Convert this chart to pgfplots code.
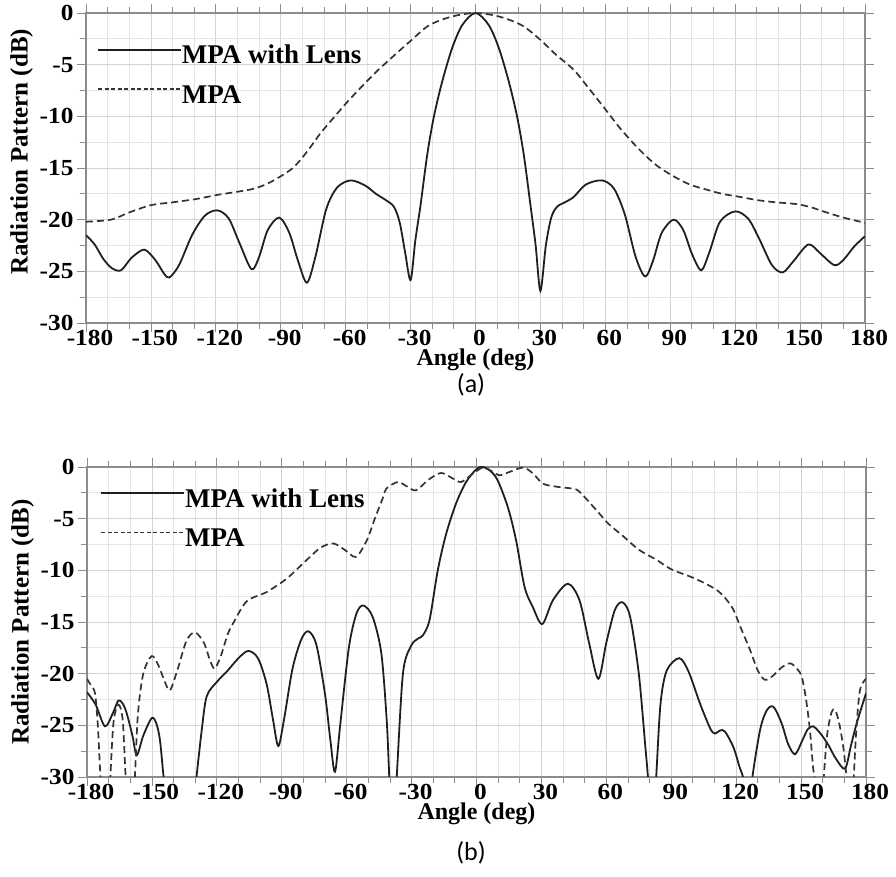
\documentclass[border=0pt]{standalone}
\usepackage{pgfplots}
\pgfplotsset{compat=1.18}
\usepackage{fontspec}
\setmainfont{Liberation Serif}
\newfontfamily\tickfont{Liberation Serif}[FakeStretch=1.1]
\newfontfamily\capfont{Carlito}

\pgfplotsset{
  myaxis/.style={
    scale only axis, width=779pt, height=310pt,
    anchor=south west,
    xmin=-180, xmax=180, ymin=-30, ymax=0,
    xtick={-180,-150,...,180}, ytick={-30,-25,...,0},
    minor x tick num=2, minor y tick num=1,
    grid=both,
    major grid style={color=black!17, line width=0.8pt},
    minor grid style={color=black!10, line width=0.8pt},
    axis line style={color=black!45, line width=1.2pt},
    tick align=outside,
    major tick length=9pt, minor tick length=6pt,
    tick style={color=black!45, line width=0.8pt},
    /pgf/number format/assume math mode=true,
    ticklabel style={font=\tickfont\fontsize{23}{23}\selectfont\bfseries},
    xticklabel style={inner sep=0pt, xshift=4pt, yshift=2pt},
    xlabel={Angle (deg)}, ylabel={Radiation Pattern (dB)},
    xlabel style={font=\fontsize{24}{24}\selectfont\bfseries, inner sep=0pt, yshift=-2.5pt},
    ylabel style={font=\fontsize{25}{25}\selectfont\bfseries},
    legend image code/.code={\draw[##1] (0pt,14pt) -- (83pt,14pt);},
    legend style={draw=none, fill=none, inner sep=0pt, anchor=north west,
      font=\fontsize{27}{27}\selectfont\bfseries,
      cells={anchor=base west},
      nodes={inner sep=0pt}},
  },
  solidline/.style={line width=1.8pt, black!88, smooth},
  dashline/.style={line width=1.7pt, black!80, dash pattern=on 7pt off 4pt, smooth},
}

\begin{document}
\begin{tikzpicture}
\useasboundingbox (0,0) rectangle (896pt,877pt);

% ---------------- (a) ----------------
\begin{axis}[myaxis, at={(86pt,554pt)},
  ylabel style={at={(ticklabel cs:0.552)}},
  legend style={at={(axis description cs:0.014,0.897)}, row sep=20pt}]
\addlegendimage{line width=1.8pt, black!88}
\addlegendentry{MPA with Lens}
\addlegendimage{line width=1.6pt, black!80, dash pattern=on 4pt off 2.5pt}
\addlegendentry{MPA}
\addplot[solidline, forget plot] coordinates {
(-180,-21.5) (-176,-22.4) (-172,-23.8) (-168,-24.7) (-163.8,-24.9) (-159,-23.7)
(-153.1,-22.9) (-148,-23.9) (-144,-25.2) (-141.5,-25.6) (-137,-24.4) (-131,-21.5)
(-125,-19.6) (-119.2,-19.1) (-114,-19.9) (-109,-22.3) (-103.5,-24.8) (-100,-23.6)
(-96,-21.0) (-90.7,-19.8) (-86,-21.3) (-82,-24.0) (-77.9,-26.1) (-74,-23.6)
(-69,-19.0) (-64,-16.9) (-57.7,-16.2) (-51,-16.7) (-46,-17.5) (-41.5,-18.1)
(-37.7,-18.75) (-35,-20.3) (-32.5,-23.2) (-30,-25.85) (-27.8,-22.0) (-25.4,-18.6)
(-22.3,-13.7) (-19.2,-10.0) (-15.4,-6.65) (-10.8,-3.4) (-6.1,-1.16) (0,0)
(6.1,-1.16) (10.8,-3.4) (15.4,-6.65) (19.2,-10.0) (22.3,-13.7) (25.4,-18.6)
(27.8,-22.5) (30,-26.9) (32.5,-22.5) (35,-19.8) (37.7,-18.75) (41.5,-18.3)
(45.4,-17.8) (51,-16.6) (58.5,-16.2) (64,-17.0) (69,-19.5) (74,-23.6)
(78.4,-25.5) (82,-24.0) (86,-21.3) (91.5,-20.0) (96,-21.0) (100,-23.3)
(104.3,-24.9) (108,-23.2) (113,-20.2) (120,-19.2) (126,-19.9) (131,-21.8)
(137,-24.4) (142,-25.1) (147,-24.0) (153.8,-22.4) (159,-23.2) (165.8,-24.4)
(170,-23.9) (175,-22.6) (180,-21.6)
};
\addplot[dashline, forget plot] coordinates {
(-180,-20.2) (-168.4,-20.0) (-160,-19.3) (-150,-18.6) (-139.2,-18.3)
(-129,-18.0) (-119.2,-17.6) (-110,-17.3) (-102.3,-17.0) (-96,-16.5)
(-90,-15.8) (-85,-15.1) (-80.8,-14.2) (-76,-12.9) (-71.5,-11.6) (-65,-10.0)
(-59.2,-8.6) (-52,-7.0) (-45.4,-5.6) (-37,-4.0) (-30,-2.7) (-21.5,-1.2)
(-11,-0.35) (0,0) (11,-0.35) (21.5,-1.2) (30,-2.6) (37,-4.0) (45.4,-5.5)
(52,-7.2) (59.2,-9.1) (67,-11.2) (76.1,-13.3) (84,-14.8) (91.5,-15.8)
(99,-16.6) (106.9,-17.1) (114,-17.5) (122.3,-17.8) (130,-18.1) (137.7,-18.3)
(148.5,-18.5) (155,-18.8) (160.7,-19.2) (170,-19.8) (180,-20.3)
};
\end{axis}

% ---------------- (b) ----------------
\begin{axis}[myaxis, at={(87pt,100pt)},
  legend style={at={(axis description cs:0.017,0.932)}, row sep=20pt}]
\addlegendimage{line width=1.8pt, black!88}
\addlegendentry{MPA with Lens}
\addlegendimage{line width=1.6pt, black!80, dash pattern=on 4pt off 2.5pt}
\addlegendentry{MPA}
\addplot[solidline, forget plot] coordinates {
(-180,-21.8) (-176,-23.0) (-171.7,-25.1) (-168,-23.8) (-165.5,-22.6) (-163.5,-22.9)
(-161.7,-23.8) (-159,-26.0) (-157,-27.9) (-154,-26.0) (-150.1,-24.3) (-148,-24.8)
(-146.3,-26.4) (-144.7,-29.8) (-143,-33) (-137,-42) (-131,-33) (-129.3,-29.8)
(-127,-25.5) (-124.7,-22.2) (-120,-20.8) (-115.4,-19.8) (-110,-18.5) (-105.5,-17.8)
(-101,-18.5) (-97,-21.0) (-94,-24.5) (-91.6,-27.0) (-89,-24.5) (-85,-19.5)
(-81,-16.7) (-77.7,-15.9) (-74,-17.2) (-70,-22.0) (-67.5,-26.5) (-65.4,-29.5)
(-63,-25.0) (-59,-17.5) (-55.5,-14.2) (-52.3,-13.4) (-48,-14.5) (-44,-18.0)
(-41.5,-24.5) (-40.2,-30.5) (-38.7,-36) (-37,-30.5) (-34,-20.0) (-30.2,-17.3)
(-27,-16.6) (-24.8,-16.3) (-21.7,-14.8) (-17.9,-10.0) (-14,-6.45) (-9.4,-3.5)
(-4.8,-1.45) (0,-0.2) (2.9,0) (6.5,-0.4) (9.8,-1.3) (14.5,-3.9) (18.3,-7.1)
(22.2,-11.6) (26,-13.55) (30.4,-15.2) (35.3,-12.9) (42.2,-11.3) (47.6,-12.9)
(52,-17.0) (56.3,-20.5) (60,-17.0) (64,-13.8) (67.5,-13.1) (71,-14.5)
(75,-20.0) (78,-27.0) (79.4,-30.5) (81,-36) (82.9,-30.5) (85,-23.0)
(87.9,-19.7) (93.7,-18.5) (98,-19.8) (103.3,-22.9) (108,-25.3) (110.2,-25.8)
(112.5,-25.5) (114.8,-25.6) (118.7,-27.1) (121.5,-29.0) (123.6,-30.5) (125.5,-35)
(127.2,-30.5) (131,-25.5) (134,-23.6) (137.2,-23.2) (141,-24.8) (144,-26.8)
(147.2,-27.8) (150.5,-26.5) (153,-25.4) (155.6,-25.1) (159,-25.8) (162.6,-26.9)
(166,-28.2) (170.3,-29.2) (173,-27.0) (175.7,-24.8) (180,-21.9)
};
\addplot[dashline, forget plot] coordinates {
(-180,-20.5) (-178,-21.2) (-176.3,-21.9) (-175,-25.0) (-173.5,-31) (-171.5,-36)
(-169.5,-31) (-167.8,-24.8) (-165.5,-23.0) (-163.5,-24.5) (-162,-30.5) (-160,-36)
(-158,-30.5) (-156.5,-24.0) (-154,-20.0) (-150.1,-18.3) (-147,-19.2) (-144,-20.8)
(-141.6,-21.6) (-138,-19.5) (-134,-16.8) (-130.1,-16.0) (-126,-17.0) (-123,-18.8)
(-120.9,-19.5) (-118,-18.2) (-115,-16.2) (-112.4,-15.1) (-106.2,-13.0) (-97,-12.1)
(-87.7,-10.8) (-78.5,-9.0) (-72,-7.8) (-66.2,-7.4) (-61,-8.0) (-55.7,-8.7)
(-50.7,-7.1) (-47,-5.0) (-43.1,-2.9) (-41.7,-2.1) (-36.4,-1.45) (-32,-1.9)
(-27.9,-2.25) (-22,-1.2) (-16.3,-0.58) (-11,-1.1) (-7.1,-1.45) (-2,-0.7)
(2.9,-0.06) (7,-0.4) (10.6,-0.8) (15,-0.5) (21.4,-0.06) (26,-0.6) (30.6,-1.6)
(36.8,-1.9) (44.5,-2.1) (47.6,-2.4) (55.5,-4.2) (61,-5.5) (67.8,-6.7) (75,-8.0)
(83.3,-9.0) (90,-9.9) (98.7,-10.6) (105,-11.2) (111,-11.9) (115,-12.7)
(118.7,-13.8) (122,-15.5) (126.4,-17.7) (130,-19.7) (133.3,-20.6) (137,-20.2)
(141,-19.4) (144.9,-19.0) (148,-19.5) (150.3,-20.3) (152.3,-22.5) (154.1,-25.5)
(155.5,-29) (156.4,-30.5) (158.3,-36) (160.3,-30.5) (162,-26.0) (164,-23.8)
(165.7,-23.5) (167.6,-24.8) (169.5,-27.1) (170.8,-29.5) (171.8,-31) (173,-35)
(174.1,-31) (175.5,-25.5) (177.2,-21.6) (180,-20.5)
};
\end{axis}

\node[font=\capfont\fontsize{26}{26}\selectfont] at (471pt,492pt) {(a)};
\node[font=\capfont\fontsize{26}{26}\selectfont] at (471pt,24pt) {(b)};
\end{tikzpicture}
\end{document}
